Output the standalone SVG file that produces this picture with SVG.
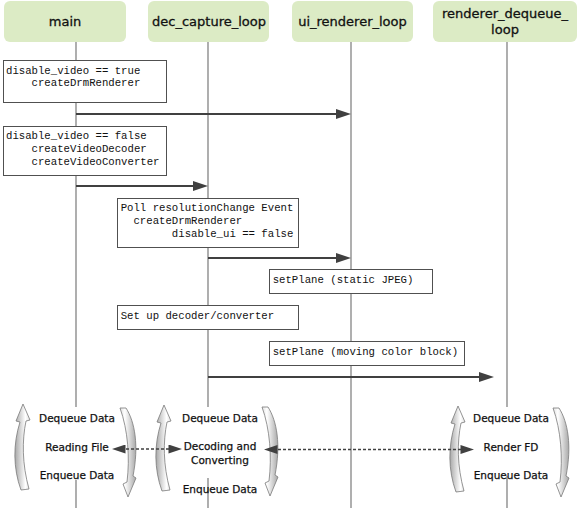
<svg xmlns="http://www.w3.org/2000/svg" width="578" height="512" viewBox="0 0 578 512">
<style>
.hdr{fill:#dcebc5}
.ht{font-family:"DejaVu Sans",Verdana,sans-serif;font-size:13px;fill:#111;stroke:#111;stroke-width:0.3;text-anchor:middle}
.life{stroke:#7a7a7a;stroke-width:1.2;fill:none}
.note{fill:#fff;stroke:#505050;stroke-width:1}
.nt{font-family:"Liberation Mono","Courier New",monospace;font-size:10.67px;fill:#111;white-space:pre}
.msg{stroke:#404040;stroke-width:2;fill:none;marker-end:url(#ah)}
.dash{stroke:#404040;stroke-width:1.5;fill:none;stroke-dasharray:3 2;marker-start:url(#ah2);marker-end:url(#ah2)}
.lt{font-family:"DejaVu Sans",Tahoma,sans-serif;font-size:10.5px;fill:#111;stroke:#111;stroke-width:0.25;text-anchor:middle}
.ca{stroke:#7a7a7a;stroke-width:0.8}
</style>
<defs>
<marker id="ah" viewBox="0 0 15 10" refX="5" refY="5" markerWidth="15" markerHeight="10" markerUnits="userSpaceOnUse" orient="auto-start-reverse"><path d="M0,0 L15,5 L0,10 Z" fill="#404040"/></marker>
<marker id="ah2" viewBox="0 0 15 10" refX="5" refY="5" markerWidth="15" markerHeight="9" markerUnits="userSpaceOnUse" orient="auto-start-reverse"><path d="M0,0 L15,5 L0,10 Z" fill="#404040"/></marker>
<linearGradient id="gl" x1="0" y1="0" x2="1" y2="0"><stop offset="0" stop-color="#a8a8a8"/><stop offset="0.7" stop-color="#ffffff"/><stop offset="1" stop-color="#e0e0e0"/></linearGradient>
<linearGradient id="gr" x1="1" y1="0" x2="0" y2="0"><stop offset="0" stop-color="#a8a8a8"/><stop offset="0.7" stop-color="#ffffff"/><stop offset="1" stop-color="#e0e0e0"/></linearGradient>
<path id="arrL" d="M0,0 L7,16 L3,17 C-1,36 -1,60 6,85 L-2,86 C-10,64 -10,40 -3,18 L-7,17 Z"/>
<path id="arrR" d="M0,0 L6,0 C15,14 19,38 13,68 L16,70 L8,89 L3,76 L7,74 C10,50 8,22 0,0 Z"/>
</defs>

<g id="lifelines">
<path class="life" d="M76,42 V407 M76,480 V508"/>
<path class="life" d="M208,42 V407 M208,478 V508"/>
<path class="life" d="M351,42 V508"/>
<path class="life" d="M507,42 V407 M507,476 V508"/>
</g>

<g id="node-main"><rect class="hdr" x="4" y="1" width="122" height="41" rx="6"/><text class="ht" x="65" y="25.5">main</text></g>
<g id="node-dec"><rect class="hdr" x="148" y="1" width="121" height="41" rx="6"/><text class="ht" x="209" y="25.5">dec_capture_loop</text></g>
<g id="node-ui"><rect class="hdr" x="292" y="1" width="121" height="41" rx="6"/><text class="ht" x="352.5" y="25.5">ui_renderer_loop</text></g>
<g id="node-renderer"><rect class="hdr" x="433" y="1" width="144" height="41" rx="6"/><text class="ht" x="505" y="18">renderer_dequeue_</text><text class="ht" x="505" y="34">loop</text></g>

<g id="note1"><rect class="note" x="3.5" y="60.5" width="163" height="42"/><text class="nt" x="6" y="73.5">disable_video == true</text><text class="nt" x="6" y="86">    createDrmRenderer</text></g>
<g id="note2"><rect class="note" x="3.5" y="126.5" width="163" height="49"/><text class="nt" x="6" y="138.5">disable_video == false</text><text class="nt" x="6" y="151.5">    createVideoDecoder</text><text class="nt" x="6" y="164.5">    createVideoConverter</text></g>
<g id="note3"><rect class="note" x="117.5" y="198.5" width="181" height="49"/><text class="nt" x="120.7" y="210.5">Poll resolutionChange Event</text><text class="nt" x="120.7" y="223.5">  createDrmRenderer</text><text class="nt" x="120.7" y="236.5">        disable_ui == false</text></g>
<g id="note4"><rect class="note" x="269.5" y="269.5" width="163" height="24"/><text class="nt" x="272.7" y="282.5">setPlane (static JPEG)</text></g>
<g id="note5"><rect class="note" x="117.5" y="305.5" width="181" height="24"/><text class="nt" x="120.7" y="318.5">Set up decoder/converter</text></g>
<g id="note6"><rect class="note" x="269.5" y="341.5" width="195" height="24"/><text class="nt" x="272.7" y="354.5">setPlane (moving color block)</text></g>

<g id="loop-main">
<use href="#arrL" x="23" y="404" fill="url(#gl)" class="ca"/>
<use href="#arrR" x="120" y="408" fill="url(#gr)" class="ca"/>
<text class="lt" x="77" y="422">Dequeue Data</text>
<text class="lt" x="77" y="451">Reading File</text>
<text class="lt" x="77" y="479">Enqueue Data</text>
</g>
<g id="loop-dec">
<use href="#arrL" x="164" y="405" fill="url(#gl)" class="ca"/>
<use href="#arrR" x="262" y="407" fill="url(#gr)" class="ca"/>
<text class="lt" x="220" y="422">Dequeue Data</text>
<text class="lt" x="220" y="449.5">Decoding and</text>
<text class="lt" x="220" y="464">Converting</text>
<text class="lt" x="220" y="493">Enqueue Data</text>
</g>
<g id="loop-renderer">
<use href="#arrL" x="458" y="406" fill="url(#gl)" class="ca"/>
<use href="#arrR" x="553" y="408" fill="url(#gr)" class="ca"/>
<text class="lt" x="511" y="422">Dequeue Data</text>
<text class="lt" x="511" y="450.5">Render FD</text>
<text class="lt" x="511" y="479">Enqueue Data</text>
</g>

<g id="connectors">
<path class="msg" d="M76,114 H341"/>
<path class="msg" d="M76,186 H198"/>
<path class="msg" d="M208,258 H341"/>
<path class="msg" d="M208,377 H484"/>
<path class="dash" d="M121,449 H173"/>
<path class="dash" d="M273,449.5 H465"/>
</g>
</svg>
